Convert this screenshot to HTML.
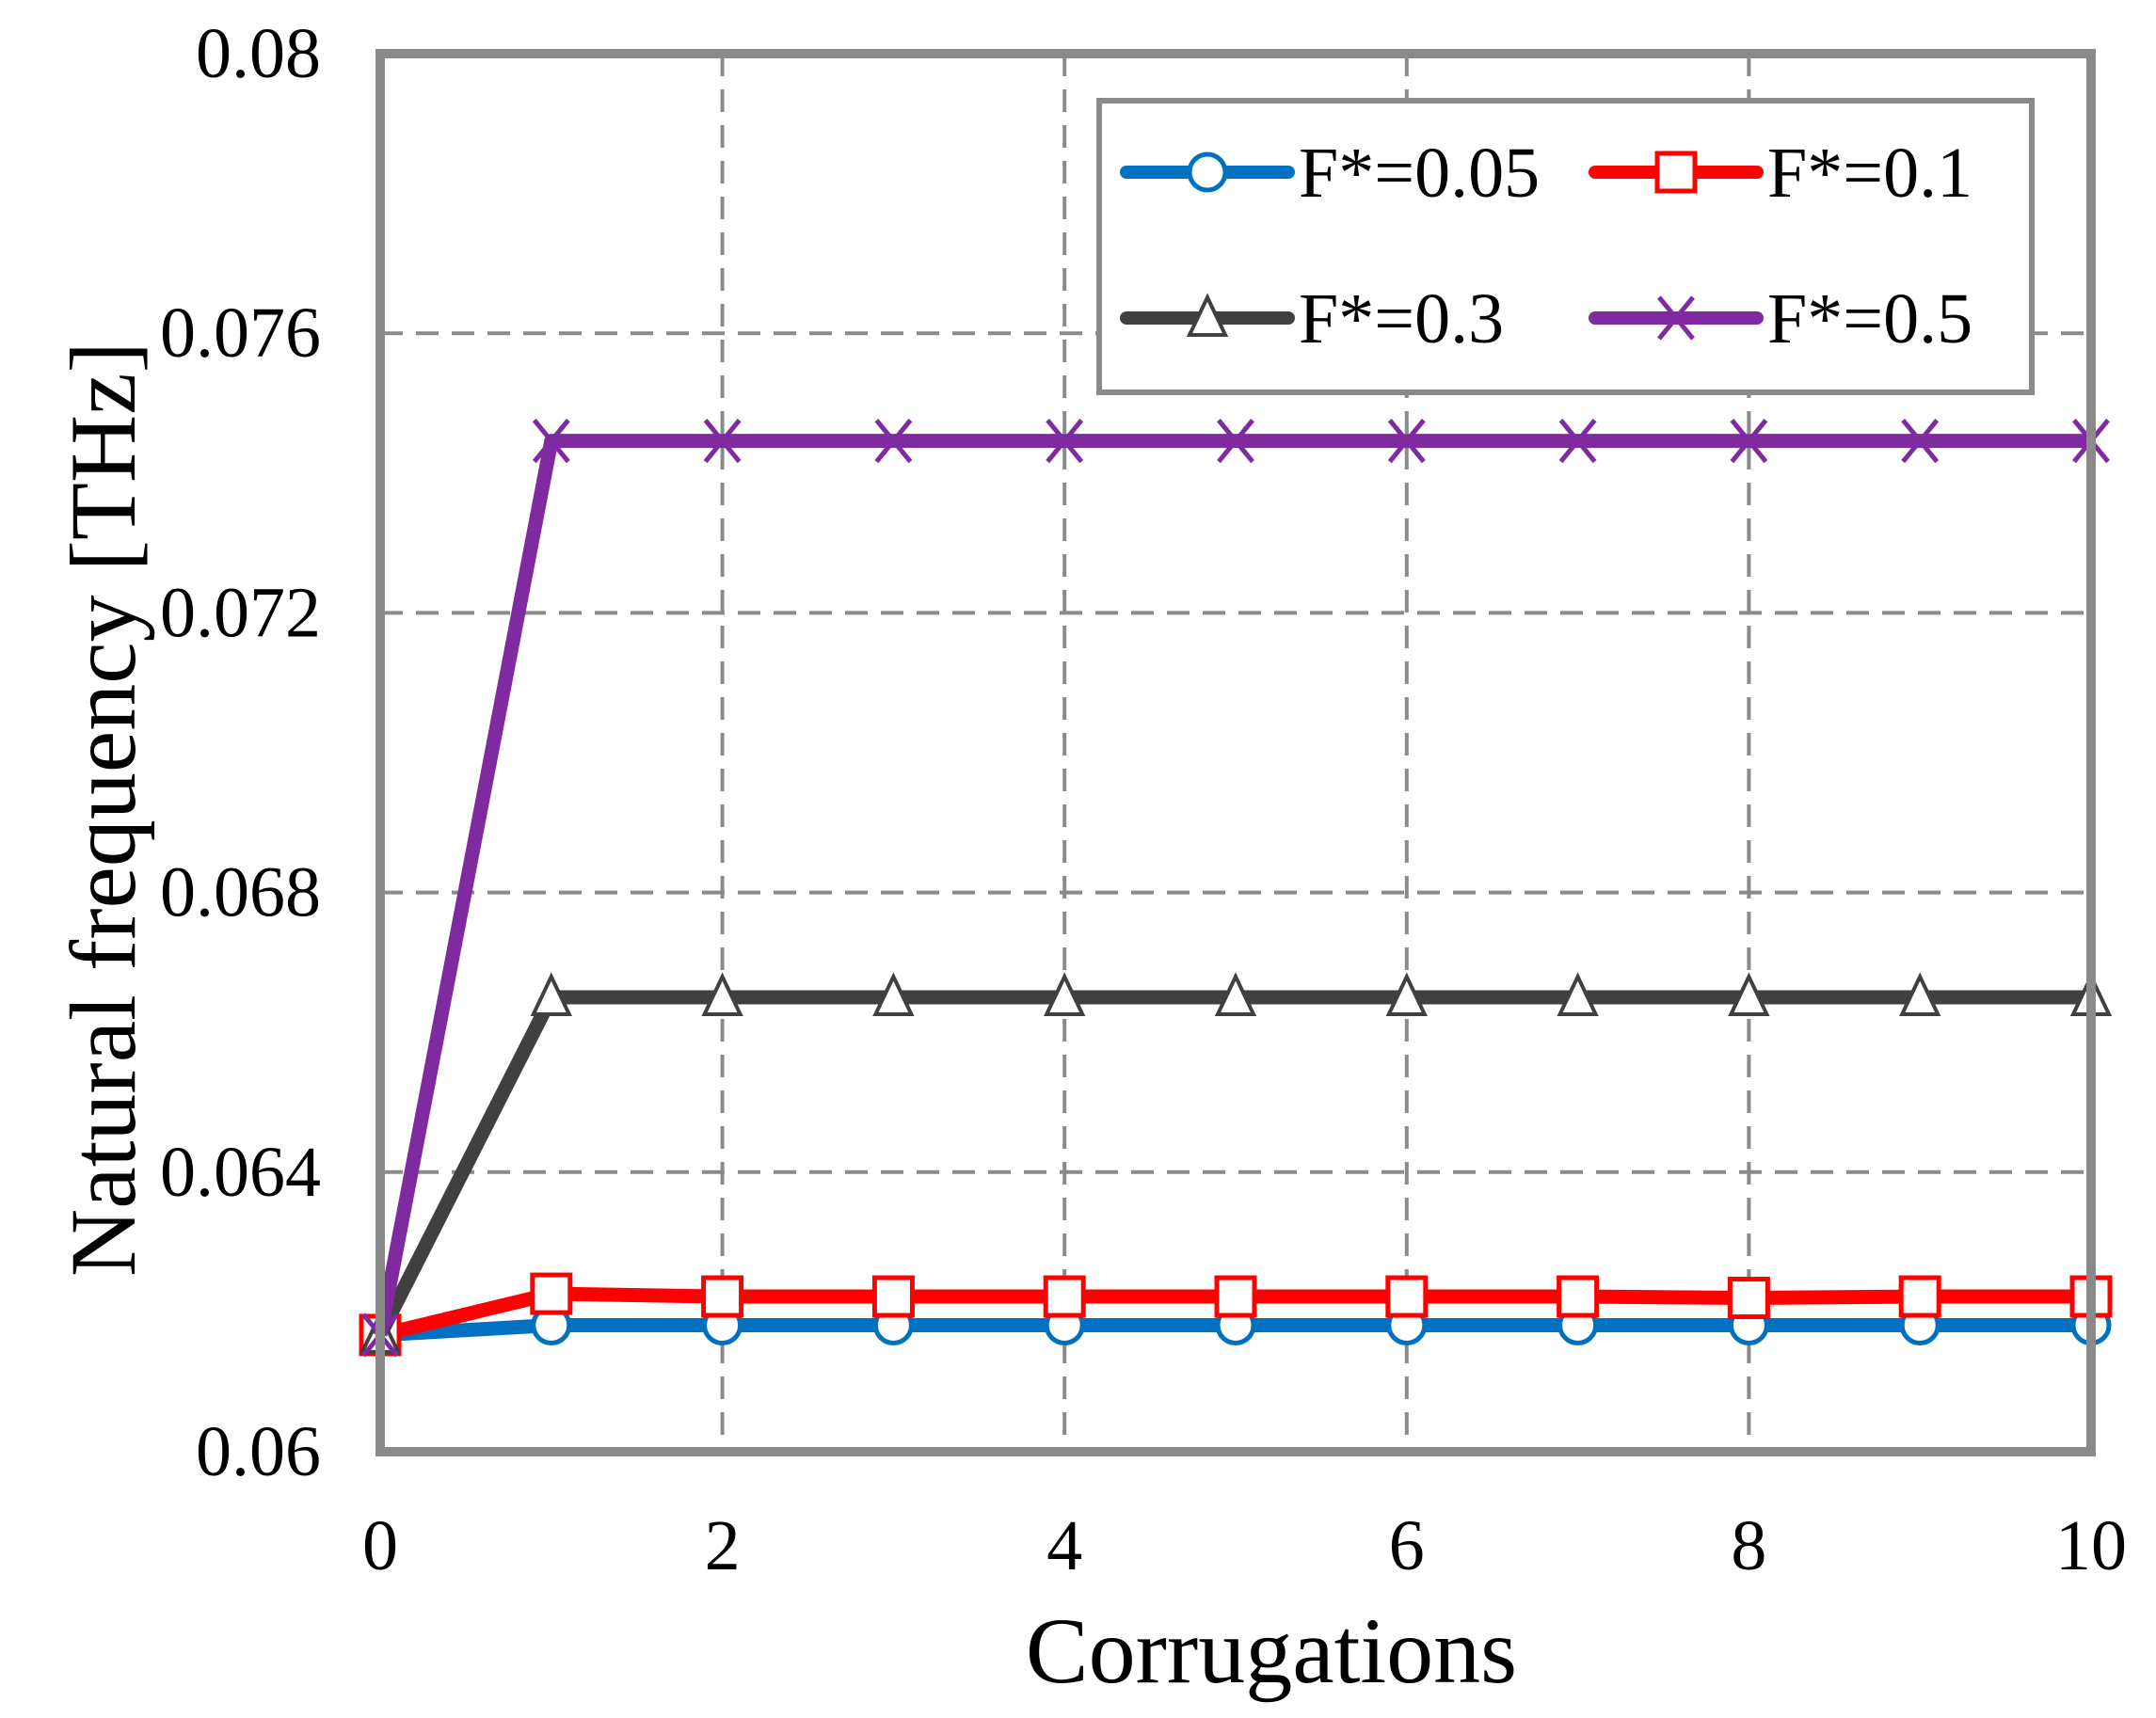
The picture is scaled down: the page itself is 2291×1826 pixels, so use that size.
<!DOCTYPE html>
<html><head><meta charset="utf-8"><style>
body{margin:0;background:#fff}
svg{display:block;font-family:"Liberation Serif",serif}
</style></head><body>
<svg id="chart" width="2291" height="1826" viewBox="0 0 2291 1826" xmlns="http://www.w3.org/2000/svg">
<g id="grid"></g>
<g id="series"></g>
<rect x="404" y="57" width="1818" height="1486" fill="none" stroke="#8a8a8a" stroke-width="10"/>
<g id="ticks" font-size="76" fill="#000"></g>
<text x="1351" y="1788" font-size="100" text-anchor="middle">Corrugations</text>
<text transform="translate(143,860) rotate(-90)" font-size="100" text-anchor="middle">Natural frequency [THz]</text>
<g id="legend">
<rect x="1168" y="107" width="991" height="310" fill="#fff" stroke="#8a8a8a" stroke-width="6"/>
</g>
</svg>
<script>
const categories=[0,1,2,3,4,5,6,7,8,9,10];
const s005=[0.06167,0.06181,0.06181,0.06181,0.06181,0.06181,0.06181,0.06181,0.06181,0.06181,0.06181];
const s01=[0.06167,0.06226,0.06222,0.06222,0.06222,0.06222,0.06222,0.06222,0.0622,0.06222,0.06222];
const s03=[0.06167,0.0665,0.0665,0.0665,0.0665,0.0665,0.0665,0.0665,0.0665,0.0665,0.0665];
const s05=[0.06167,0.07446,0.07446,0.07446,0.07446,0.07446,0.07446,0.07446,0.07446,0.07446,0.07446];
const yTicks=[0.06,0.064,0.068,0.072,0.076,0.08];
const yTickLabels=["0.06","0.064","0.068","0.072","0.076","0.08"];
const xTicks=[0,2,4,6,8,10];
const xTickLabels=["0","2","4","6","8","10"];
const seriesNames=["F*=0.05","F*=0.1","F*=0.3","F*=0.5"];

const NS="http://www.w3.org/2000/svg";
const X=v=>404+(v-0)/10*1818;
const Y=v=>1543-(v-0.06)/0.02*1486;
function mk(tag,attrs,parent){const e=document.createElementNS(NS,tag);for(const k in attrs)e.setAttribute(k,attrs[k]);parent.appendChild(e);return e;}
const grid=document.getElementById('grid'),ticks=document.getElementById('ticks'),ser=document.getElementById('series'),leg=document.getElementById('legend');
yTicks.forEach((t,i)=>{
  if(i>0&&i<yTicks.length-1){const l=mk('line',{x1:404,x2:2222,y1:Y(t),y2:Y(t),stroke:'#8a8a8a','stroke-width':4,'stroke-dasharray':'24 14'},grid);
  
  }
  const tx=mk('text',{x:341,y:Y(t)+25,'text-anchor':'end'},ticks);tx.textContent=yTickLabels[i];
  
  
});
xTicks.forEach((t,i)=>{
  if(i>0&&i<xTicks.length-1){const l=mk('line',{x1:X(t),x2:X(t),y1:57,y2:1543,stroke:'#8a8a8a','stroke-width':4,'stroke-dasharray':'24 14'},grid);
  
  }
  const tx=mk('text',{x:X(t),y:1668,'text-anchor':'middle'},ticks);tx.textContent=xTickLabels[i];
  
  
});
function marker(type,x,y,color,parent){
  let e;
  if(type==='circle')e=mk('circle',{cx:x,cy:y,r:19,fill:'#fff',stroke:color,'stroke-width':5},parent);
  else if(type==='square')e=mk('rect',{x:x-20,y:y-20,width:40,height:40,fill:'#fff',stroke:color,'stroke-width':5},parent);
  else if(type==='triangle')e=mk('path',{d:`M${x} ${y-22}L${x+19} ${y+18}L${x-19} ${y+18}Z`,fill:'#fff',stroke:color,'stroke-width':4},parent);
  else e=mk('path',{d:`M${x-18} ${y-22}L${x+18} ${y+22}M${x+18} ${y-22}L${x-18} ${y+22}`,fill:'none',stroke:color,'stroke-width':5},parent);
  return e;
}
const defs=[[s005,'#0070c0','circle'],[s01,'#ff0000','square'],[s03,'#404040','triangle'],[s05,'#7f2aa0','cross']];
defs.forEach(([vals,color,type])=>{
  const g=mk('g',{},ser);
  
  
  const pts=vals.map((v,i)=>X(categories[i])+','+Y(v)).join(' ');
  const pl=mk('polyline',{points:pts,fill:'none',stroke:color,'stroke-width':15,'stroke-linejoin':'round'},g);
  
  
  vals.forEach((v,i)=>{const m=marker(type,X(categories[i]),Y(v),color,g);
    
    });
});
const legDefs=[[0,'#0070c0','circle',1197,183],[1,'#ff0000','square',1695,183],[2,'#404040','triangle',1197,338],[3,'#7f2aa0','cross',1695,338]];
legDefs.forEach(([i,color,type,x,y])=>{
  const g=mk('g',{},leg);
  
  
  mk('line',{x1:x,x2:x+172,y1:y,y2:y,stroke:color,'stroke-width':14,'stroke-linecap':'round'},g);
  marker(type,x+86,y,color,g);
  const t=mk('text',{x:x+183,y:y+26,'font-size':76},g);t.textContent=seriesNames[i];
});
</script>
</body></html>
